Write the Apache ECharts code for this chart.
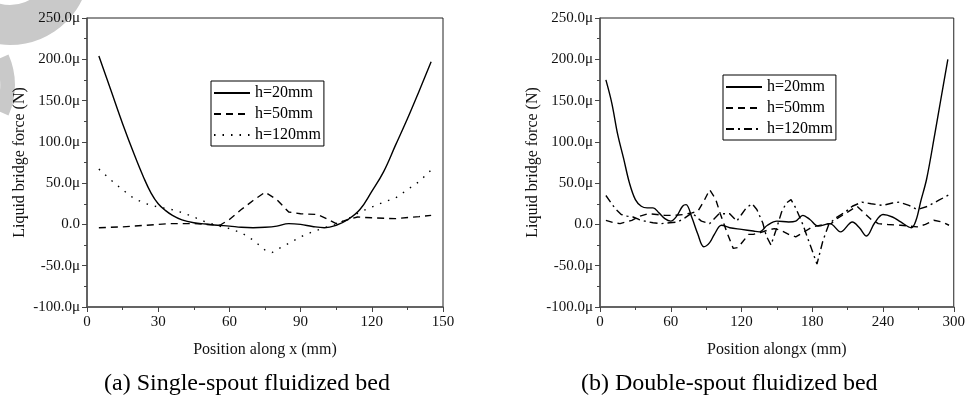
<!DOCTYPE html>
<html>
<head>
<meta charset="utf-8">
<script src="https://cdn.jsdelivr.net/npm/echarts@6/dist/echarts.min.js"></script>
<style>html,body{margin:0;padding:0;background:#fff}#c{width:968px;height:396px}</style>
</head>
<body>
<div id="c"></div>
<script>
// ---- Data (force values in μN) ----
// (a) Single-spout fluidized bed
const a20x = [5,10,15,20,24,27,30,33,36,40,45,50,55,60,65,70,75,80,85,90,95,100,105,110,115,120,125,130,135,140,145];
const a20y = [204,163,122,84,56,38,25,17,11,5.5,2,0.5,-1,-2,-3.5,-4,-3.5,-2,1,0,-2.5,-4,-1,6,18,40,64,96,128,162,197];
const a50x = [5,15,25,35,45,50,56,60,65,70,75,80,85,90,97,101,105,110,114,120,130,140,145];
const a50y = [-4,-3,-1,1,1,0,-1,6,18,29,39,30,15,13,12,7,1,6,9,8,7,9.5,11];
const a120x = [5,10,15,20,25,30,35,40,45,50,55,60,65,70,75,78,81,85,90,95,100,105,110,115,120,125,130,135,140,145];
const a120y = [67,54,42,31,25,21,18.5,14.5,9,3,-1.5,-5,-10,-19,-31,-34,-29,-23,-15,-9,-4,0,7,15,21,27,32,42,52,66];
// (b) Double-spout fluidized bed
const b20x = [5,10,15,20,25,30,35,40,45,50,55,60,65,70,73,78,83,88,93,97,103,110,120,130,135,142,150,160,166,172,178,185,195,204,214,220,226,233,240,248,255,264,268,272,277,284,289,295];
const b20y = [175,147,109,80,50,30,22,20,20,14,7,4,10,22,24,8,-12,-27,-22,-12,-1,-4,-6,-8,-9,-1,4,3,4,11,6,-2,1,-9,3,-4,-14,2,12,9,3,-4,5,28,55,110,151,200];
const b50x = [5,12,17,27,34,41,48,55,63,71,78,83,88,93,98,102,108,113,117,121,126,130,136,142,148,153,160,166,172,180,190,196,201,210,218,224,230,236,244,255,262,269,276,283,290,296];
const b50y = [5,2,1,5,10,13,12,11,11,12,14,16,28,42,31,13,-11,-29,-28,-21,-12,-12,-10,-7,-5,-7,-12,-15,-10,-3,0,1,7,15,22,14,6,1,0,-1,-2,-3,0,5,3,-1];
const b120x = [5,10,13,18,23,28,33,38,45,52,59,66,72,78,86,93,101,110,116,120,124,129,133,138,141,145,149,154,158,162,166,172,177,184,189,194,200,207,214,222,230,240,248,254,262,269,278,287,296];
const b120y = [35,25,19,12,10,9,6,4,2,1,2,3,8,14,4,1,13,13,4,12,20,25,18,2,-14,-25,-8,15,26,30,20,0,-20,-48,-20,0,8,14,22,27,25,23,26,27,23,18,22,29,36];

const seriesNames = ['h=20mm','h=50mm','h=120mm'];
const xTicksA = {min:0, max:150, interval:30};
const xTicksB = {min:0, max:300, interval:60};
const yTicks = {min:-100, max:250, interval:50};

const zip = (xs, ys) => xs.map((x,i)=>[x, ys[i]]);
const FONT = 'Liberation Serif';
const INK = '#111';

function xAxis(idx, t, name){
  return {
    type:'value', gridIndex:idx, min:t.min, max:t.max, interval:t.interval,
    name:name, nameLocation:'middle', nameGap:35,
    nameTextStyle:{fontFamily:FONT, fontSize:16, color:INK},
    axisLine:{show:true, onZero:false, lineStyle:{color:'#555', width:1.5}},
    axisTick:{show:true, length:5, inside:false, lineStyle:{color:'#444'}},
    minorTick:{show:true, splitNumber:2, length:3, lineStyle:{color:'#444'}},
    splitLine:{show:false},
    axisLabel:{fontFamily:FONT, fontSize:15, color:INK, margin:8}
  };
}
function yAxis(idx, t){
  return {
    type:'value', gridIndex:idx, min:t.min, max:t.max, interval:t.interval,
    name:'Liquid bridge force (N)', nameLocation:'middle', nameGap:59,
    nameTextStyle:{fontFamily:FONT, fontSize:16, color:INK},
    axisLine:{show:true, lineStyle:{color:'#555', width:1.5}},
    axisTick:{show:true, length:5, inside:false, lineStyle:{color:'#444'}},
    minorTick:{show:true, splitNumber:2, length:3, lineStyle:{color:'#444'}},
    splitLine:{show:false},
    axisLabel:{fontFamily:FONT, fontSize:15, color:INK, margin:7,
      formatter: v => v === 0 ? '0.0' : v.toFixed(1) + 'μ'}
  };
}
function line(name, idx, data, type, smooth){
  return {
    name:name, type:'line', xAxisIndex:idx, yAxisIndex:idx, data:data,
    symbol:'none', showSymbol:false, smooth:smooth, silent:true,
    itemStyle:{color:'#000'},
    lineStyle:{color:'#000', width:1.4, type:type}
  };
}
const legendCommon = {
  orient:'vertical', backgroundColor:'#fff', borderColor:'#000', borderWidth:1,
  itemWidth:36, itemHeight:14, itemGap:5, padding:[4,3,3,2],
  itemStyle:{opacity:0},
  textStyle:{fontFamily:FONT, fontSize:16, color:'#000'},
  formatter: n => n.split(' ')[0]
};

const chart = echarts.init(document.getElementById('c'), null, {renderer:'canvas'});
chart.setOption({
  animation:false,
  backgroundColor:'#fff',
  grid:[
    {left:87, top:18, width:356, height:289, show:true, borderColor:'#222', borderWidth:1, backgroundColor:'transparent'},
    {left:600, top:18, width:356, height:289, show:true, borderColor:'#222', borderWidth:1, backgroundColor:'transparent'}
  ],
  xAxis:[xAxis(0, xTicksA, 'Position along x (mm)'), xAxis(1, xTicksB, 'Position alongx (mm)')],
  yAxis:[yAxis(0, yTicks), yAxis(1, yTicks)],
  legend:[
    Object.assign({left:211, top:81, data:seriesNames.slice()}, legendCommon),
    Object.assign({left:723, top:75, data:seriesNames.map(n => n + ' (b)')}, legendCommon)
  ],
  series:[
    line(seriesNames[0], 0, zip(a20x,a20y), 'solid', 0.4),
    line(seriesNames[1], 0, zip(a50x,a50y), [7,5], false),
    line(seriesNames[2], 0, zip(a120x,a120y), [1.5,7], false),
    line(seriesNames[0] + ' (b)', 1, zip(b20x,b20y), 'solid', 0.35),
    line(seriesNames[1] + ' (b)', 1, zip(b50x,b50y), [7,5], false),
    line(seriesNames[2] + ' (b)', 1, zip(b120x,b120y), [8,4,2,4], false)
  ],
  graphic:[
    {type:'sector', z:-10, shape:{cx:10, cy:-35, r0:40, r:80, startAngle:0, endAngle:Math.PI}, style:{fill:'#c9c9c9'}},
    {type:'sector', z:-10, shape:{cx:-60, cy:85, r0:60, r:75, startAngle:-0.42, endAngle:0.42}, style:{fill:'#c9c9c9'}},
    {type:'text', left:104, top:372, style:{text:'(a) Single-spout fluidized bed', fontFamily:FONT, fontSize:24, fill:'#000'}},
    {type:'text', left:581, top:372, style:{text:'(b) Double-spout fluidized bed', fontFamily:FONT, fontSize:24, fill:'#000'}}
  ]
});
</script>
</body>
</html>
